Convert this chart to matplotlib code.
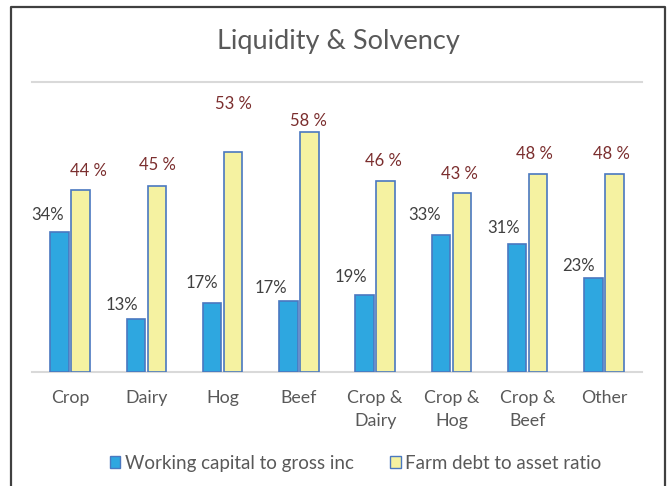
import matplotlib
matplotlib.use("Agg")
import matplotlib.pyplot as plt
from matplotlib.patches import Patch
from matplotlib.lines import Line2D
import numpy as np

plt.rcParams['font.family'] = ['Lato', 'DejaVu Sans']

categories = ["Crop", "Dairy", "Hog", "Beef", "Crop &\nDairy", "Crop &\nHog", "Crop &\nBeef", "Other"]
working_capital = [0.338, 0.128, 0.166, 0.172, 0.186, 0.330, 0.308, 0.228]
debt_to_asset = [0.440, 0.450, 0.530, 0.580, 0.460, 0.431, 0.479, 0.479]
series_names = ["Working capital to gross inc", "Farm debt to asset ratio"]

# label offsets in pixels (style)
wc_dx = [-12, -14, -10, -17, -14, -16, -14, -15]
wc_dy = [17, 14, 20, 13, 18, 20, 16, 12]
da_dx = [8, 1, 0, -1, -2, -2, -4, -3]
da_dy = [19, 21, 48, 11, 20, 19, 20, 20]

W, H = 671, 486
fig = plt.figure(figsize=(W/100, H/100), dpi=100)
ax = fig.add_axes([32/W, (H-372)/H, 610/W, 290/H])

x = np.arange(len(categories))
bw = 0.24
off = 0.138
blue = "#2EA7E0"
yellow = "#F5F2A1"
edge = "#4A78C0"
ax.bar(x - off, working_capital, bw, color=blue, edgecolor=edge, linewidth=1.2, zorder=3)
ax.bar(x + off, debt_to_asset, bw, color=yellow, edgecolor=edge, linewidth=1.2, zorder=3)

for i in range(len(categories)):
    ax.annotate(f"{round(working_capital[i]*100):.0f}%", (x[i]-off, working_capital[i]),
                xytext=(wc_dx[i], wc_dy[i]), textcoords="offset pixels",
                ha="center", va="center", fontsize=12, color="#404040")
    ax.annotate(f"{round(debt_to_asset[i]*100):.0f} %", (x[i]+off, debt_to_asset[i]),
                xytext=(da_dx[i], da_dy[i]), textcoords="offset pixels",
                ha="center", va="center", fontsize=12, color="#7B2E2E")

ax.set_xlim(-0.5, len(categories) - 0.5)
ax.set_ylim(0, 0.70)
ax.set_yticks([])
ax.axhline(0.70, color="#D9D9D9", linewidth=1.5, zorder=1, clip_on=False)
for s in ["top", "right", "left"]:
    ax.spines[s].set_visible(False)
ax.spines["bottom"].set_color("#D9D9D9")
ax.spines["bottom"].set_linewidth(1.5)
ax.set_xticks(x)
ax.set_xticklabels(categories, fontsize=12.8, color="#595959", linespacing=1.55)
ax.tick_params(axis="x", length=0, pad=13)

fig.text(338/W, 1 - 41/H, "Liquidity & Solvency", ha="center", va="center",
         fontsize=19.5, color="#595959")

handles = [Patch(facecolor=blue, edgecolor=edge, linewidth=1.0),
           Patch(facecolor=yellow, edgecolor=edge, linewidth=1.0)]
fig.legend(handles, series_names, loc="center", bbox_to_anchor=(355.5/W, 1 - 463/H),
           ncol=2, frameon=False, fontsize=13.5, labelcolor="#595959",
           handlelength=0.58, handleheight=0.58, handletextpad=0.25, columnspacing=1.9)

# outer frame (left, top, right)
fig.add_artist(Line2D([10.5/W, 10.5/W, 664.5/W, 664.5/W], [0, 1 - 7/H, 1 - 7/H, 0],
                      transform=fig.transFigure, color="#404040", linewidth=1.6))

fig.savefig("out.png", dpi=100)
